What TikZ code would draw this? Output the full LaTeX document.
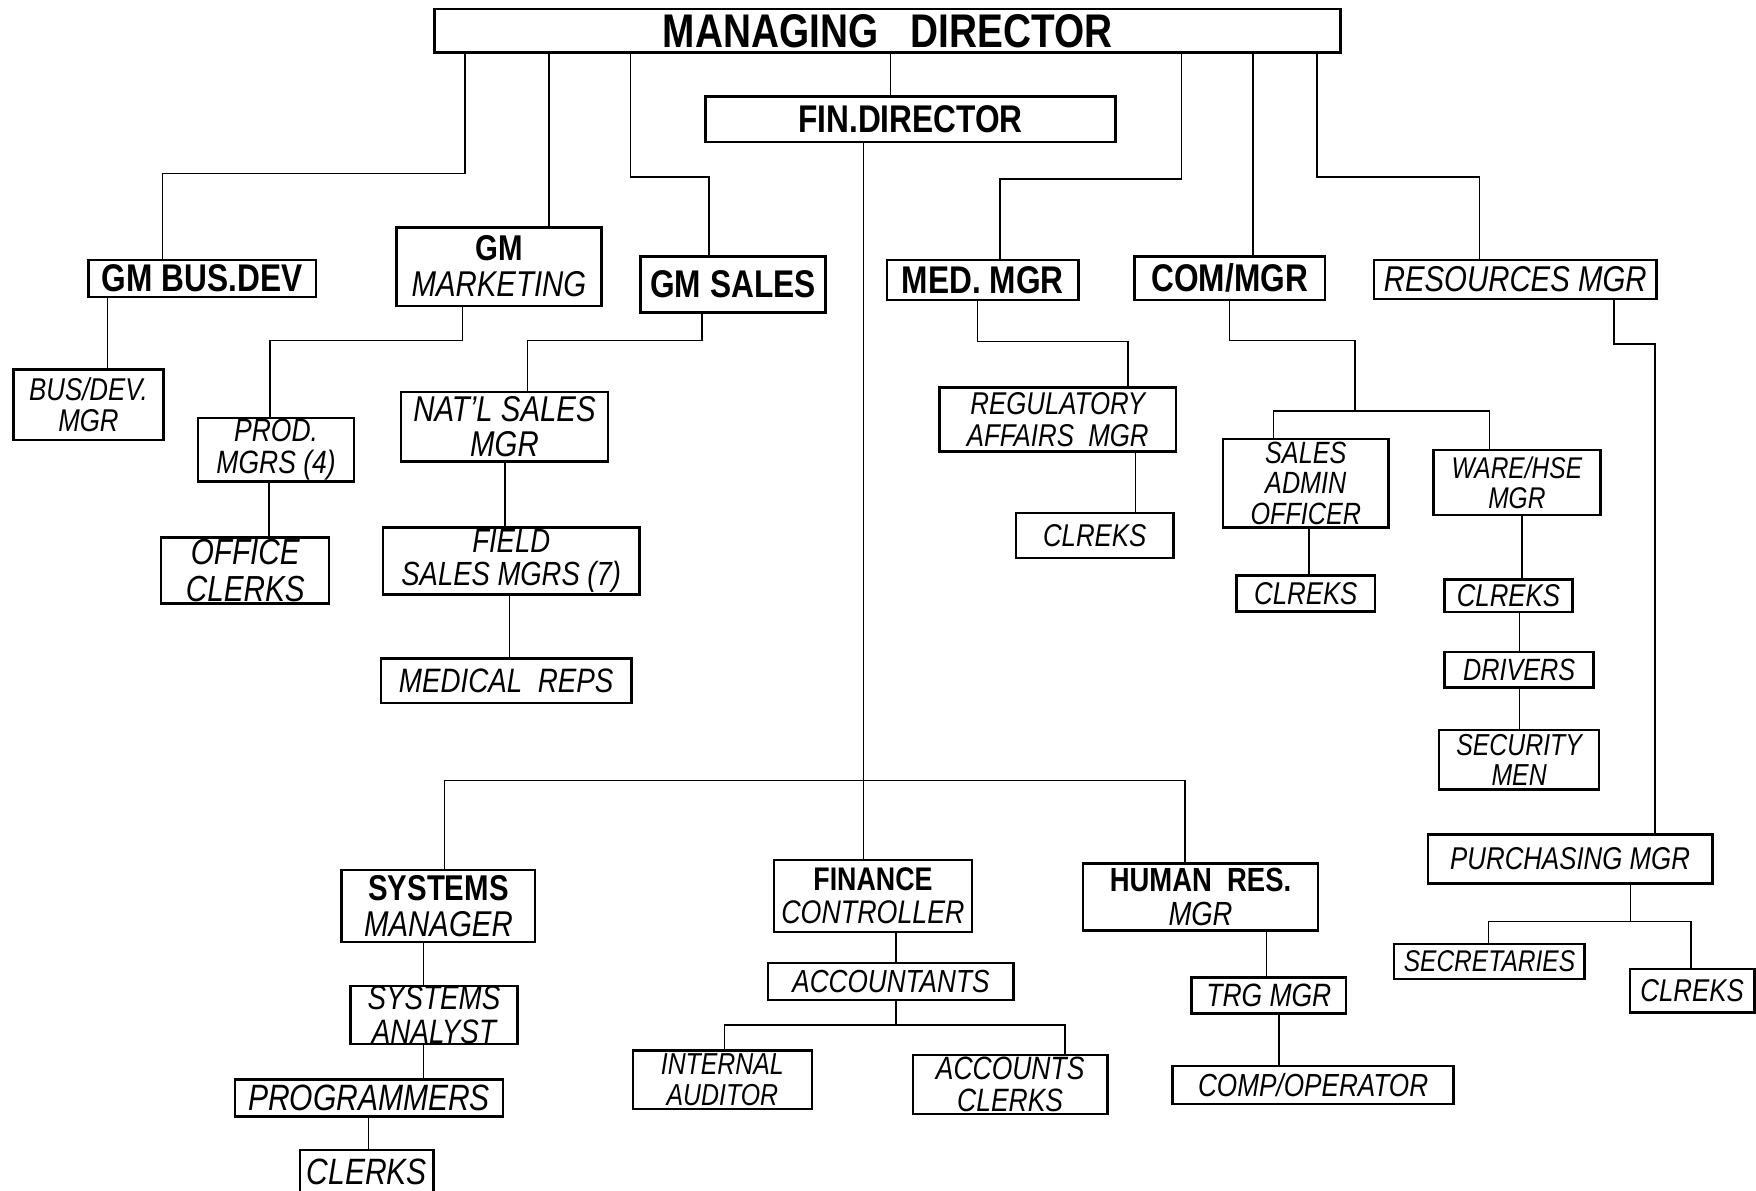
\documentclass[tikz,border=0pt]{standalone}
\usepackage{fontspec}
\setmainfont{Liberation Sans}[FakeStretch=0.82]
\newcommand{\hd}[1]{{\upshape\bfseries #1}}

\begin{document}
\begin{tikzpicture}[x=0.01cm, y=-0.01cm,
    box/.style={draw, line width=0.6pt, inner sep=0pt, align=center},
    head/.style={box, font=\fontsize{9.8}{10}\selectfont\bfseries},
    lbl/.style={box, font=\fontsize{#1}{#1}\selectfont\itshape}]
   \useasboundingbox (0,0) rectangle (1568,1063);

   % top row
   \node[head, font=\fontsize{12}{12}\selectfont\bfseries, minimum width=809*0.01cm, minimum height=39*0.01cm] (md) at (792.5,27.5) {MANAGING\ \ \ DIRECTOR};

   \foreach \id/\x/\y/\w/\h/\txt in {{fin/813/106.5/366/41/FIN.DIRECTOR}, {gmbus/180.5/248.5/203/33/GM BUS.DEV}, {gmsales/654.5/254/165/50/GM SALES}, {medmgr/877.5/250/171/36/MED. MGR}, {commgr/1098/248.5/170/39/{COM/MGR}}}
      \node[head, minimum width=\w*0.01cm, minimum height=\h*0.01cm] (\id) at (\x,\y) {\txt};

   % everybody else
   \foreach \id/\x/\y/\w/\h/\s/\txt in {
      {gmmkt/445.5/238/183/70/9.1/{\hd{GM}\\MARKETING}},
      {resmgr/1353/249.5/252/35/9.1/RESOURCES MGR},
      {busdev/79/361.5/134/63/8/{BUS/DEV.\\MGR}},
      {prod/246.5/401.5/139/57/8.2/{PROD.\\MGRS (4)}},
      {office/219/509.5/150/59/9.2/{OFFICE\\CLERKS}},
      {natl/450.5/381/185/62/9.1/{NAT'L SALES\\MGR}},
      {field/456.5/501/229/60/8.5/{FIELD\\SALES MGRS (7)}},
      {medrep/452/608/224/40/8.6/{MEDICAL\ \ REPS}},
      {reg/944.5/374.5/211/57/8/{REGULATORY\\AFFAIRS\ \ MGR}},
      {clra/977.5/478/141/40/8/CLREKS},
      {sao/1166/431.5/148/79/7.8/{SALES\\ADMIN\\OFFICER}},
      {clrb/1166/530/124/32/8/CLREKS},
      {ware/1354.5/431/149/58/7.6/{WARE/HSE\\MGR}},
      {clrc/1347/532/114/29/8/CLREKS},
      {drv/1356.5/598/133/32/7.8/DRIVERS},
      {secm/1356.5/678.5/143/53/7.7/{SECURITY\\MEN}},
      {pur/1402/767/254/44/8/PURCHASING MGR},
      {secr/1330/858.5/170/31/7.6/SECRETARIES},
      {clrd/1511/884.5/111/39/8/CLREKS},
      {sysm/391.5/809/173/64/9.1/{\hd{SYSTEMS}\\MANAGER}},
      {sysa/387.5/906.5/149/51/8.6/{SYSTEMS\\ANALYST}},
      {prog/329.5/980.5/239/33/9.3/PROGRAMMERS},
      {clk/327.5/1046/119/38/9.3/CLERKS},
      {fc/779.5/800/177/64/8.3/{\hd{FINANCE}\\CONTROLLER}},
      {acc/795.5/876.5/219/33/8.1/ACCOUNTANTS},
      {ia/645/964/160/52/7.7/{INTERNAL\\AUDITOR}},
      {acl/902/968.5/174/53/8.2/{ACCOUNTS\\CLERKS}},
      {hr/1072/801/210/60/8.5/{\hd{HUMAN\ \ RES.}\\MGR}},
      {trg/1133/889/138/32/8.2/TRG MGR},
      {comp/1172.5/969/251/34/8.1/{COMP/OPERATOR}}}
      \node[lbl=\s, minimum width=\w*0.01cm, minimum height=\h*0.01cm] (\id) at (\x,\y) {\txt};

   % lines from the managing director
   \draw (md.south -| 415,0) |- (145,155) -- (gmbus.north -| 145,0);
   \draw (md.south -| 490,0) -- (gmmkt.north -| 490,0);
   \draw (md.south -| 563,0) |- (633,158) -- (gmsales.north -| 633,0);
   \draw (md.south -| 795,0) -- (fin.north -| 795,0);
   \draw (md.south -| 1055,0) |- (893,160) -- (medmgr.north -| 893,0);
   \draw (md.south -| 1119,0) -- (commgr.north -| 1119,0);
   \draw (md.south -| 1176,0) |- (1321,158) -- (resmgr.north -| 1321,0);

   % left branches
   \draw (gmbus.south -| 96,0) -- (busdev.north -| 96,0);
   \draw (gmmkt.south -| 413,0) |- (241,304) -- (prod.north -| 241,0);
   \draw (prod.south -| 240,0) -- (office.north -| 240,0);
   \draw (gmsales.south -| 627,0) |- (471,304) -- (natl.north -| 471,0);
   \draw (natl.south -| 451,0) -- (field.north -| 451,0);
   \draw (field.south -| 455,0) -- (medrep.north -| 455,0);

   % right branches
   \draw (medmgr.south -| 873,0) |- (1007,305) -- (reg.north -| 1007,0);
   \draw (reg.south -| 1014,0) -- (clra.north -| 1014,0);
   \draw (commgr.south -| 1098,0) |- (1210,304) -- (1210,367);
   \draw (sao.north -| 1137,0) |- (1330,367) -- (ware.north -| 1330,0);
   \draw (sao.south -| 1169,0) -- (clrb.north -| 1169,0);
   \draw (ware.south -| 1359,0) -- (clrc.north -| 1359,0);
   \draw (clrc.south -| 1357,0) -- (drv.north -| 1357,0);
   \draw (drv.south -| 1357,0) -- (secm.north -| 1357,0);
   \draw (resmgr.south -| 1441,0) |- (1478,307) -- (pur.north -| 1478,0);
   \draw (pur.south -| 1456,0) -- (1456,823);
   \draw (secr.north -| 1329,0) |- (1510,823) -- (clrd.north -| 1510,0);

   % finance director
   \draw (fin.south -| 771,0) -- (fc.north -| 771,0);
   \draw (sysm.north -| 397,0) |- (1058,697) -- (hr.north -| 1058,0);
   \draw (sysm.south -| 378,0) -- (sysa.north -| 378,0);
   \draw (sysa.south -| 378,0) -- (prog.north -| 378,0);
   \draw (prog.south -| 329,0) -- (clk.north -| 329,0);
   \draw (fc.south -| 800,0) -- (acc.north -| 800,0);
   \draw (acc.south -| 800,0) -- (800,915);
   \draw (ia.north -| 647,0) |- (951,915) -- (acl.north -| 951,0);
   \draw (hr.south -| 1131,0) -- (trg.north -| 1131,0);
   \draw (trg.south -| 1142,0) -- (comp.north -| 1142,0);
\end{tikzpicture}
\end{document}
